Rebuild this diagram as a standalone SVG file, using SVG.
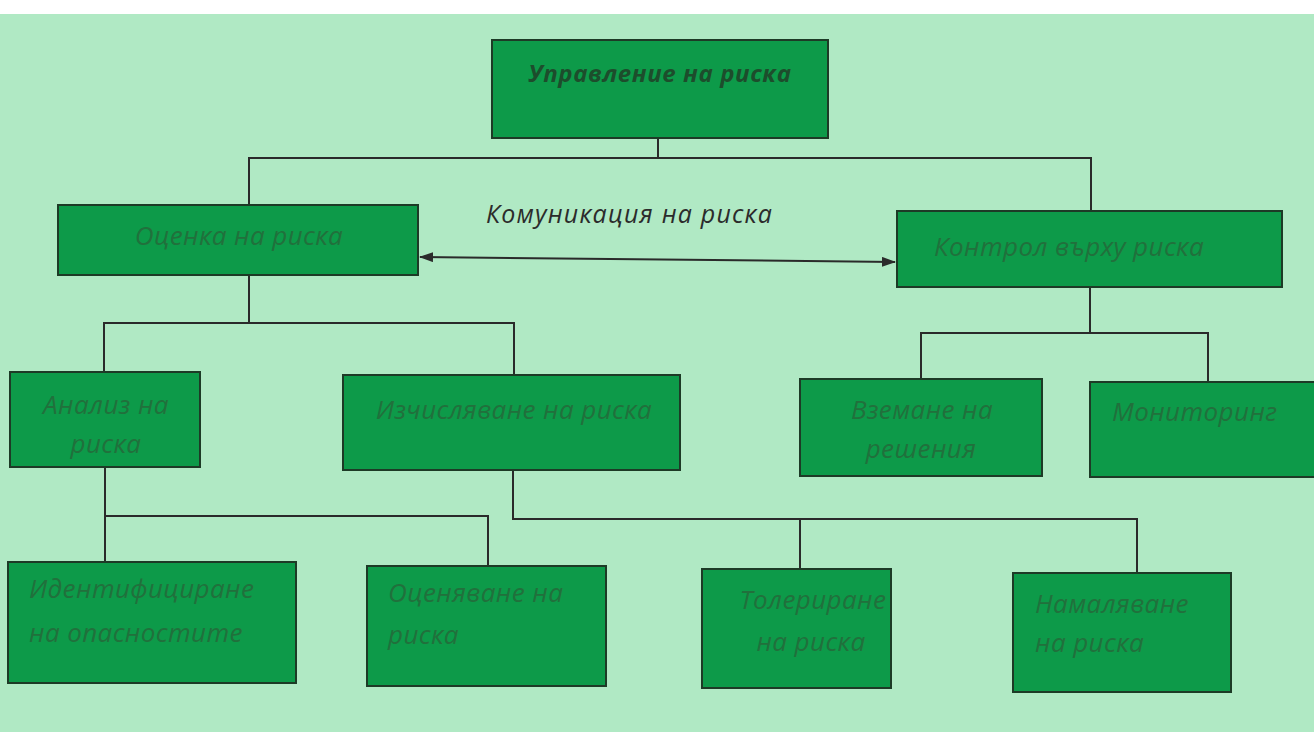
<svg xmlns="http://www.w3.org/2000/svg" width="1314" height="732" viewBox="0 0 1314 732">
<defs>
<marker id="ah" viewBox="0 0 14 10" refX="13" refY="5" markerWidth="14" markerHeight="10" orient="auto-start-reverse" markerUnits="userSpaceOnUse">
<path d="M0,0 L14,5 L0,10 z" fill="#2b2b2b"/>
</marker>
<style>
.bg{fill:#b0e9c4}
.box{fill:#0d9a49;stroke:#1d3a26;stroke-width:2}
.lbl{font-family:"Open Sans","Liberation Sans",sans-serif;font-style:italic;font-size:26px;letter-spacing:0.4px;fill:#21703c}
.top{font-family:"Open Sans","Liberation Sans",sans-serif;font-style:italic;font-weight:bold;font-size:24px;letter-spacing:0.6px;fill:#1d4d2c}
.comm{font-family:"Open Sans","Liberation Sans",sans-serif;font-style:italic;font-size:25px;letter-spacing:1.2px;fill:#2b2b2b}
.ln{fill:none;stroke:#2a2a2a;stroke-width:2}
</style>
</defs>
<rect x="0" y="0" width="1314" height="732" fill="#ffffff"/>
<rect class="bg" x="0" y="14" width="1314" height="718"/>
<g id="connectors">
<path class="ln" d="M658,138 V158 M249,205 V158 H1091 V211"/>
<path class="ln" d="M249,275 V323 M104,372 V323 H514 V375"/>
<path class="ln" d="M1090,287 V333 M921,379 V333 H1208 V382"/>
<path class="ln" d="M105,467 V516 M105,562 V516 H488 V566"/>
<path class="ln" d="M513,470 V519 H1137 V573 M800,519 V569"/>
<line class="ln" x1="420" y1="257" x2="895" y2="262" stroke-width="2.5" marker-start="url(#ah)" marker-end="url(#ah)"/>
<text class="comm" x="486" y="223">Комуникация на риска</text>
</g>
<g id="n-top"><rect class="box" x="492" y="40" width="336" height="98"/><text class="top" x="660" y="82" text-anchor="middle">Управление на риска</text></g>
<g id="n-assess"><rect class="box" x="58" y="205" width="360" height="70"/><text class="lbl" x="239" y="245" text-anchor="middle">Оценка на риска</text></g>
<g id="n-control"><rect class="box" x="897" y="211" width="385" height="76"/><text class="lbl" x="934" y="256">Контрол върху риска</text></g>
<g id="n-analysis"><rect class="box" x="10" y="372" width="190" height="95"/><text class="lbl" x="106" y="414" text-anchor="middle">Анализ на</text><text class="lbl" x="106" y="453" text-anchor="middle">риска</text></g>
<g id="n-calc"><rect class="box" x="343" y="375" width="337" height="95"/><text class="lbl" x="514" y="419" text-anchor="middle">Изчисляване на риска</text></g>
<g id="n-decision"><rect class="box" x="800" y="379" width="242" height="97"/><text class="lbl" x="922" y="419" text-anchor="middle">Вземане на</text><text class="lbl" x="921" y="458" text-anchor="middle">решения</text></g>
<g id="n-monitor"><rect class="box" x="1090" y="382" width="240" height="95"/><text class="lbl" x="1112" y="421">Мониторинг</text></g>
<g id="n-ident"><rect class="box" x="8" y="562" width="288" height="121"/><text class="lbl" x="29" y="598">Идентифициране</text><text class="lbl" x="29" y="642">на опасностите</text></g>
<g id="n-eval"><rect class="box" x="367" y="566" width="239" height="120"/><text class="lbl" x="388" y="602">Оценяване на</text><text class="lbl" x="388" y="644">риска</text></g>
<g id="n-toler"><rect class="box" x="702" y="569" width="189" height="119"/><text class="lbl" x="813" y="609" text-anchor="middle">Толериране</text><text class="lbl" x="811" y="651" text-anchor="middle">на риска</text></g>
<g id="n-reduce"><rect class="box" x="1013" y="573" width="218" height="119"/><text class="lbl" x="1035" y="613">Намаляване</text><text class="lbl" x="1035" y="652">на риска</text></g>
</svg>
